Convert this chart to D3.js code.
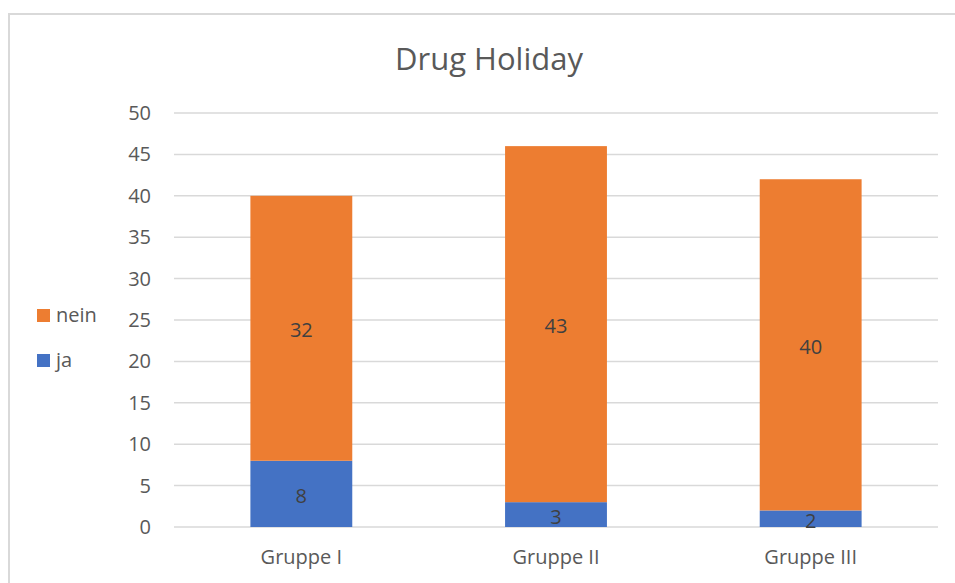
<!DOCTYPE html>
<html>
<head>
<meta charset="utf-8">
<script src="https://cdn.jsdelivr.net/npm/d3@7"></script>
<style>
  body { margin: 0; background: #fff; }
  text { font-family: "Open Sans", sans-serif; }
</style>
</head>
<body>
<div id="chart"></div>
<script>
// data
var groups = ["Gruppe I", "Gruppe II", "Gruppe III"];
var ja = [8, 3, 2];
var nein = [32, 43, 40];
var seriesNames = ["ja", "nein"];
var colors = ["#4472c4", "#ed7d31"];
var yTicks = [0, 5, 10, 15, 20, 25, 30, 35, 40, 45, 50];

var W = 955, H = 583;
var margin = {top: 113, right: 17, bottom: 56, left: 174},
    width = W - margin.left - margin.right,
    height = H - margin.top - margin.bottom;

var svg = d3.select("#chart")
  .append("svg")
    .attr("width", W)
    .attr("height", H);

// outer chart border
svg.append("rect")
  .attr("x", 9).attr("y", 14)
  .attr("width", W + 20).attr("height", H + 20)
  .style("fill", "none")
  .style("stroke", "#d9d9d9")
  .style("stroke-width", 2)

// title
svg.append("text")
  .attr("x", 489).attr("y", 70)
  .attr("text-anchor", "middle")
  .style("font-size", "31px")
  .style("fill", "#595959")
  .text("Drug Holiday")

var g = svg.append("g")
  .attr("transform", "translate(" + margin.left + "," + margin.top + ")")

var x = d3.scaleBand()
  .domain(groups)
  .range([0, width])
  .padding(0)

var y = d3.scaleLinear()
  .domain([0, 50])
  .range([height, 0])

// gridlines
g.append("g")
  .selectAll("line")
  .data(yTicks)
  .enter()
  .append("line")
    .attr("x1", 0).attr("x2", width)
    .attr("y1", function (d) { return y(d); })
    .attr("y2", function (d) { return y(d); })
    .style("stroke", "#d9d9d9")
    .style("stroke-width", 1.5)

// y axis labels
var yAxis = g.append("g")
  .call(d3.axisLeft(y).tickValues(yTicks).tickSize(0).tickPadding(23))
yAxis.select(".domain").remove()
yAxis.selectAll("text")
  .style("font-size", "20px")
  .style("fill", "#595959")
  .style("font-family", "'Open Sans', sans-serif")

// x axis labels
var xAxis = g.append("g")
  .attr("transform", "translate(0," + height + ")")
  .call(d3.axisBottom(x).tickSize(0).tickPadding(23))
xAxis.select(".domain").remove()
xAxis.selectAll("text")
  .style("font-size", "20px")
  .style("fill", "#595959")
  .style("font-family", "'Open Sans', sans-serif")

// stacked data
var rows = groups.map(function (d, i) { return {group: d, ja: ja[i], nein: nein[i]}; });
var stacked = d3.stack().keys(seriesNames)(rows);

var barW = x.bandwidth() * 0.4;

var layer = g.selectAll(".layer")
  .data(stacked)
  .enter()
  .append("g")
    .style("fill", function (d, i) { return colors[i]; })

layer.selectAll("rect")
  .data(function (d) { return d; })
  .enter()
  .append("rect")
    .attr("x", function (d) { return x(d.data.group) + (x.bandwidth() - barW) / 2; })
    .attr("width", barW)
    .attr("y", function (d) { return y(d[1]); })
    .attr("height", function (d) { return y(d[0]) - y(d[1]); })

// value labels
layer.selectAll("text")
  .data(function (d) { return d; })
  .enter()
  .append("text")
    .attr("x", function (d) { return x(d.data.group) + x.bandwidth() / 2; })
    .attr("y", function (d) { return (y(d[0]) + y(d[1])) / 2 + 2; })
    .attr("dy", "0.35em")
    .attr("text-anchor", "middle")
    .style("font-size", "20px")
    .style("fill", "#404040")
    .text(function (d) { return d[1] - d[0]; })

// legend (nein on top, ja below)
var legendItems = [{name: "nein", color: colors[1]}, {name: "ja", color: colors[0]}];
var legend = svg.append("g")
  .selectAll("g")
  .data(legendItems)
  .enter()
  .append("g")
    .attr("transform", function (d, i) { return "translate(37," + (315 + i * 45) + ")"; })
legend.append("rect")
  .attr("x", 0).attr("y", -6)
  .attr("width", 13).attr("height", 13)
  .style("fill", function (d) { return d.color; })
legend.append("text")
  .attr("x", 19).attr("y", 0)
  .attr("dy", "0.35em")
  .style("font-size", "20px")
  .style("fill", "#595959")
  .text(function (d) { return d.name; })
</script>
</body>
</html>
